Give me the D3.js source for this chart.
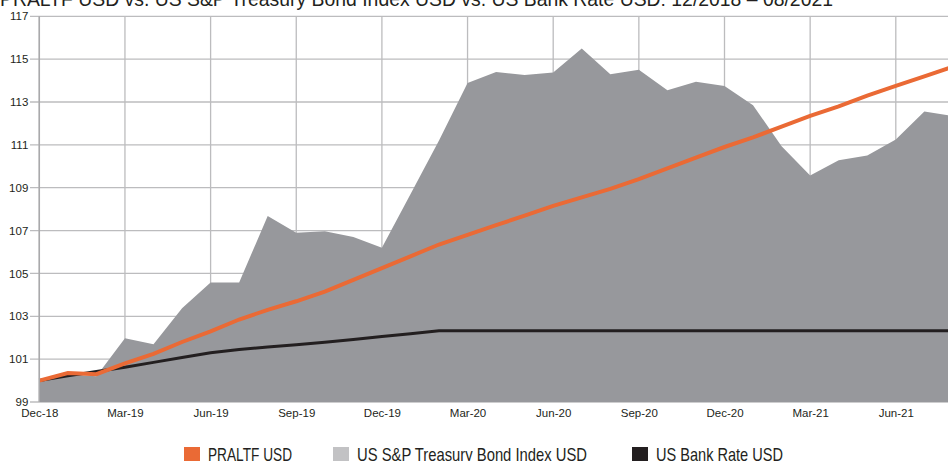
<!DOCTYPE html>
<html>
<head>
<meta charset="utf-8">
<script src="https://cdn.jsdelivr.net/npm/d3@7"></script>
<style>
	body { margin: 0; background: #fff; overflow: hidden; }
	svg { display: block; font-family: "Liberation Sans", Arial, sans-serif; }
</style>
</head>
<body>
<div id="chart"></div>
<script>
// monthly points, Dec-18 .. Aug-21
const months = d3.range(33).map(i => new Date(2018, 11 + i, 1));

const bondIndex = [99.95, 100.3, 100.2, 101.97, 101.7, 103.37, 104.58, 104.58, 107.68, 106.9,
	106.97, 106.7, 106.2, 108.7, 111.2, 113.89, 114.4, 114.26, 114.38, 115.5,
	114.3, 114.5, 113.55, 113.95, 113.75, 112.85, 110.93, 109.57, 110.28, 110.5,
	111.25, 112.56, 112.35];

const praltf = [100.0, 100.35, 100.3, 100.8, 101.25, 101.8, 102.3, 102.85, 103.3, 103.7,
	104.15, 104.7, 105.25, 105.8, 106.35, 106.8, 107.25, 107.7, 108.15, 108.55,
	108.95, 109.4, 109.9, 110.4, 110.9, 111.35, 111.85, 112.35, 112.8, 113.3,
	113.75, 114.2, 114.65];

const bankRate = [100.0, 100.22, 100.42, 100.62, 100.85, 101.08, 101.3, 101.45, 101.57, 101.67,
	101.79, 101.92, 102.06, 102.19, 102.32, 102.32, 102.32, 102.32, 102.32, 102.32,
	102.32, 102.32, 102.32, 102.32, 102.32, 102.32, 102.32, 102.32, 102.32, 102.32,
	102.32, 102.32, 102.32];

const yTicks = [99, 101, 103, 105, 107, 109, 111, 113, 115, 117];
const xTickLabels = ['Dec-18', 'Mar-19', 'Jun-19', 'Sep-19', 'Dec-19', 'Mar-20',
	'Jun-20', 'Sep-20', 'Dec-20', 'Mar-21', 'Jun-21'];
const xTickDates = xTickLabels.map((d, i) => new Date(2018, 11 + i * 3, 1));

const legendItems = [
	{ label: 'PRALTF USD', color: '#ea6a35' },
	{ label: 'US S&P Treasury Bond Index USD', color: '#c2c2c4' },
	{ label: 'US Bank Rate USD', color: '#231f20' }
];

const title = 'PRALTF USD vs. US S&P Treasury Bond Index USD vs. US Bank Rate USD: 12/2018 \u2013 08/2021';

const width = 948, height = 461;
const svg = d3.select('#chart').append('svg')
	.attr('width', width)
	.attr('height', height);

// month index based x scale, so every month gets the same width
const monthIndex = d => (d.getFullYear() - 2018) * 12 + d.getMonth() - 11;
const x = d3.scaleLinear().domain([0, 32]).range([39.3, 39.3 + 32 * 28.55]);
const y = d3.scaleLinear().domain([99, 117]).range([402, 16.3]);

// title is condensed in the original, so squeeze it to its width
svg.append('text')
	.attr('x', 0)
	.attr('y', 6)
	.attr('font-size', 20)
	.attr('fill', '#231f20')
	.attr('textLength', 833)
	.attr('lengthAdjust', 'spacingAndGlyphs')
	.text(title);

// grid
const grid = svg.append('g');
grid.selectAll('.hg')
	.data(yTicks)
	.enter().append('line')
		.attr('x1', 30).attr('x2', width)
		.attr('y1', d => y(d)).attr('y2', d => y(d))
		.style('stroke', '#bcbcbe')
		.style('stroke-width', 1.3);
grid.selectAll('.vg')
	.data(xTickDates)
	.enter().append('line')
		.attr('x1', d => x(monthIndex(d))).attr('x2', d => x(monthIndex(d)))
		.attr('y1', y(117)).attr('y2', y(99))
		.style('stroke', '#bcbcbe')
		.style('stroke-width', 1.3);

// area for the bond index
const area = d3.area()
	.x((d, i) => x(i))
	.y0(y(99))
	.y1(d => y(d));

svg.append('path')
	.datum(bondIndex)
	.attr('d', area)
	.style('fill', '#97989c');

const line = d3.line()
	.x((d, i) => x(i))
	.y(d => y(d));

svg.append('path')
	.datum(bankRate)
	.attr('d', line)
	.style('fill', 'none')
	.style('stroke', '#231f20')
	.style('stroke-width', 3);

svg.append('path')
	.datum(praltf)
	.attr('d', line)
	.style('fill', 'none')
	.style('stroke', '#ea6a35')
	.style('stroke-width', 4);

// axes
const yAxis = d3.axisLeft(y).tickValues(yTicks).tickSize(0).tickPadding(11);
svg.append('g')
	.attr('transform', 'translate(39.3,0)')
	.call(yAxis)
	.call(g => g.select('.domain').remove())
	.call(g => g.selectAll('text').attr('font-size', 11.5).attr('fill', '#231f20').attr('font-family', null));

const xAxis = d3.axisBottom(d3.scaleLinear().domain(x.domain()).range(x.range()))
	.tickValues(xTickDates.map(monthIndex))
	.tickFormat((d, i) => xTickLabels[i])
	.tickSize(0).tickPadding(7);
svg.append('g')
	.attr('transform', `translate(0,${y(99)})`)
	.call(xAxis)
	.call(g => g.select('.domain').remove())
	.call(g => g.selectAll('text').attr('font-size', 11.5).attr('fill', '#231f20').attr('font-family', null));

svg.append('line')
	.attr('x1', 39.3).attr('x2', 39.3)
	.attr('y1', y(117)).attr('y2', y(99))
	.style('stroke', '#a9a9ab')
	.style('stroke-width', 1.5);

// legend, condensed text squeezed to the widths in the original
const legendX = [184, 333, 632];
const legendW = [84, 230, 127];
const legend = svg.append('g');
legendItems.forEach((item, idx) => {
	legend.append('rect')
		.attr('x', legendX[idx]).attr('y', 447)
		.attr('width', 16).attr('height', 14)
		.style('fill', item.color);
	legend.append('text')
		.attr('x', legendX[idx] + 24).attr('y', 461)
		.attr('font-size', 18.5)
		.attr('fill', '#231f20')
		.attr('textLength', legendW[idx])
		.attr('lengthAdjust', 'spacingAndGlyphs')
		.text(item.label);
});
</script>
</body>
</html>
